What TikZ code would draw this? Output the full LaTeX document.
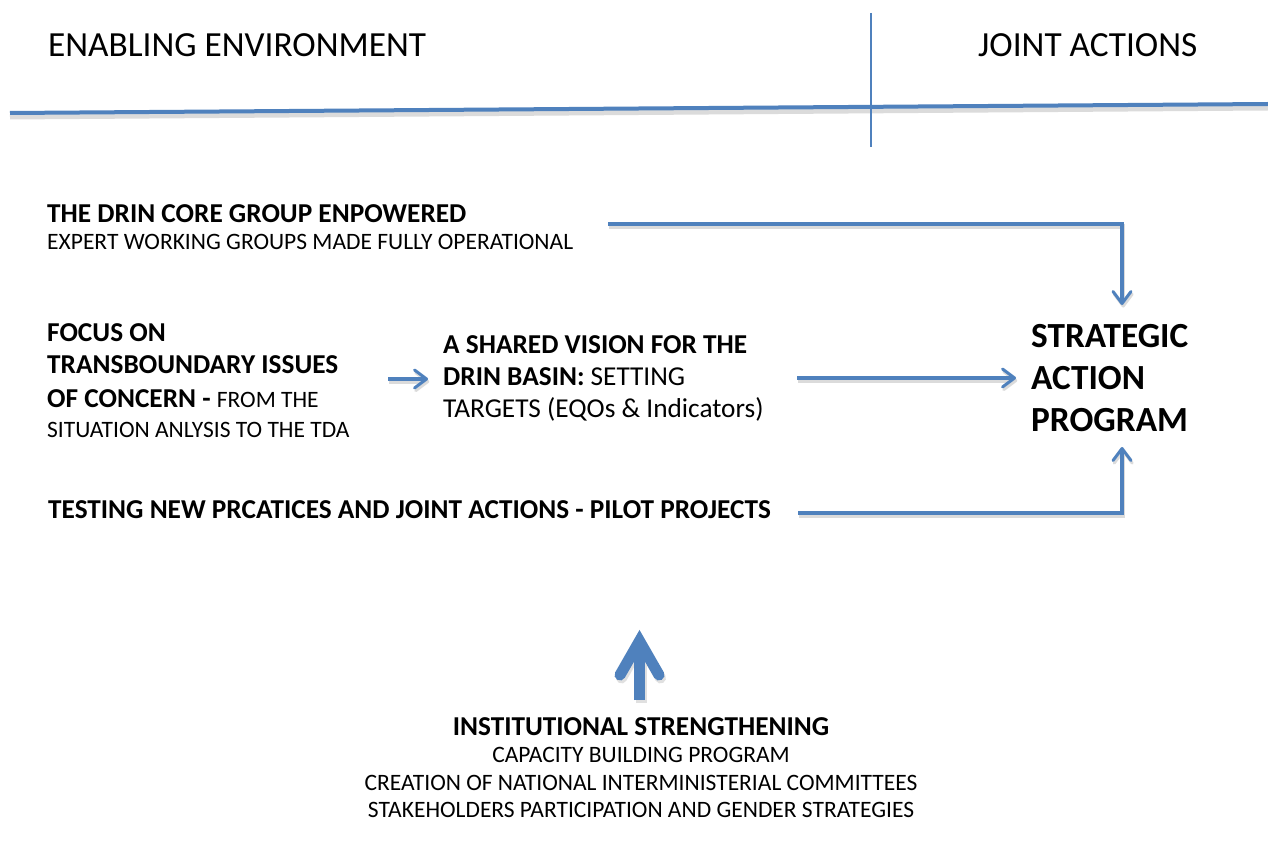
\documentclass[tikz,border=0pt]{standalone}
\usepackage{fontspec}
\setmainfont{Carlito}
\usetikzlibrary{arrows.meta}
\definecolor{abl}{RGB}{79,129,189}
\newcommand{\fsT}{\fontsize{35.3}{40}\selectfont}
\newcommand{\fsB}{\fontsize{27.3}{32}\selectfont}
\newcommand{\fsR}{\fontsize{23.5}{28}\selectfont}
\tikzset{
  txt/.style={anchor=base west, inner sep=0pt, text=black},
  ctxt/.style={anchor=base, inner sep=0pt, text=black},
  shad/.style={preaction={draw=black!14, line width=4.5pt, transform canvas={shift={(1.2,2.6)}}}},
  conn/.style={draw=abl, line width=3.2pt, shad, -{Straight Barb[length=12pt,width=18pt,line width=3pt,round]}},
  rule/.style={draw=abl, line width=4pt},
  bigarr/.style={draw=abl, line width=11pt},
  bigshad/.style={draw=black!12, line width=11pt},
}
\begin{document}
\begin{tikzpicture}[x=1pt,y=-1pt]
\useasboundingbox[fill=white] (0,0) rectangle (1268,850);
% header
\draw[rule, preaction={draw=black!14, line width=5pt, transform canvas={shift={(0,4)}}}] (10,113) -- (1268,104);
\draw[abl, line width=2.6pt] (871,13) -- (871,147);
\node[txt] (env) at (48,57) {\fsT ENABLING ENVIRONMENT};
\node[txt] (joint) at (978,57) {\fsT JOINT ACTIONS};
% left texts
\node[txt] (core) at (47,223) {\fsB\bfseries THE DRIN CORE GROUP ENPOWERED};
\node[txt] (expert) at (47,250) {\fsR EXPERT WORKING GROUPS MADE FULLY OPERATIONAL};
\node[txt] (f1) at (47,341) {\fsB\bfseries FOCUS ON};
\node[txt] (f2) at (47,373) {\fsB\bfseries TRANSBOUNDARY ISSUES};
\node[txt] (f3) at (47,407) {\fsB{\bfseries OF CONCERN -} {\fsR FROM THE}};
\node[txt] (f4) at (47,437) {\fsR SITUATION ANLYSIS TO THE TDA};
\node[txt] (v1) at (443,353) {\fsB\bfseries A SHARED VISION FOR THE};
\node[txt] (v2) at (443,385) {\fsB{\bfseries DRIN BASIN:} SETTING};
\node[txt] (v3) at (443,417) {\fsB TARGETS (EQOs \& Indicators)};
\node[txt] (s1) at (1031,347) {\fsT\bfseries STRATEGIC};
\node[txt] (s2) at (1031,389) {\fsT\bfseries ACTION};
\node[txt] (s3) at (1031,431) {\fsT\bfseries PROGRAM};
\node[txt] (test) at (48,518) {\fsB\bfseries TESTING NEW PRCATICES AND JOINT ACTIONS - PILOT PROJECTS};
% bottom texts
\node[ctxt] (inst) at (641,735) {\fsB\bfseries INSTITUTIONAL STRENGTHENING};
\node[ctxt] (cap) at (641,762) {\fsR CAPACITY BUILDING PROGRAM};
\node[ctxt] (crea) at (641,790) {\fsR CREATION OF NATIONAL INTERMINISTERIAL COMMITTEES};
\node[ctxt] (stak) at (641,817) {\fsR STAKEHOLDERS PARTICIPATION AND GENDER STRATEGIES};
% connector ends
\coordinate (cs) at (608,224);
\coordinate (ce) at (1122,305);
\coordinate (ms) at (388,379);
\coordinate (me) at (428,379);
\coordinate (ls) at (797,378);
\coordinate (le) at (1016,378);
\coordinate (ts) at (798,513);
\coordinate (te) at (1122,447);
\draw[conn] (cs) -| (ce);
\draw[conn] (ms) -- (me);
\draw[conn] (ls) -- (le);
\draw[conn] (ts) -| (te);
% big up arrow
\coordinate (bb) at (639.5,700);
\coordinate (bt) at (639.5,641);
\draw[bigshad, transform canvas={shift={(1.5,3)}}] (bb) -- (639.5,648);
\draw[bigshad, line cap=round, line join=miter, transform canvas={shift={(1.5,3)}}] (620,675) -- (bt) -- (659,675);
\draw[bigarr] (bb) -- (639.5,648);
\draw[bigarr, line cap=round, line join=miter] (620,675) -- (bt) -- (659,675);
\end{tikzpicture}
\end{document}
